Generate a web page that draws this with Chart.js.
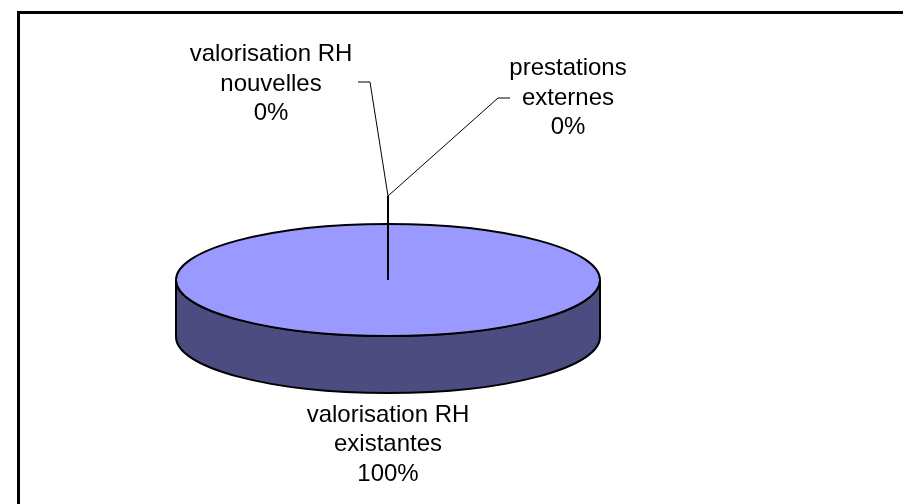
<!DOCTYPE html>
<html>
<head>
<meta charset="utf-8">
<script src="https://cdn.jsdelivr.net/npm/chart.js@4/dist/chart.umd.min.js"></script>
<style>
  html, body { margin: 0; padding: 0; background: #fff; }
  #wrap { position: relative; width: 903px; height: 504px; overflow: hidden; }
  #frame { position: absolute; left: 17px; top: 11px; width: 1000px; height: 600px;
           border-left: 3px solid #000; border-top: 3px solid #000; }
  #pie { position: absolute; left: 0; top: 0; }
</style>
</head>
<body>
<div id="wrap">
  <div id="frame"></div>
  <canvas id="pie" width="903" height="504"></canvas>
</div>
<script>
const sliceNames = [
  ['valorisation RH', 'existantes'],
  ['valorisation RH', 'nouvelles'],
  ['prestations', 'externes'],
];
const sliceValues = [100, 0, 0];
const topColors = ['#9999ff', '#993366', '#ffffcc'];
const sideColors = ['#4c4c80', '#4d1a33', '#808066'];

const TILT = 56 / 212;   // vertical squash of the pie
const DEPTH = 57;        // thickness of the 3d side
const FONT = '24px "Liberation Sans", Arial, sans-serif';
const LINE_H = 29.5;

class Pie3D {
  constructor() {
    this.canvas = document.getElementById('pie');
    this.total = sliceValues.reduce((a, b) => a + b, 0);
    this.render();
  }

  percent(i) {
    return Math.round(sliceValues[i] / this.total * 100) + '%';
  }

  // front (visible) part of the slice side
  drawSide(ctx, arc, color) {
    const { x, y, startAngle, endAngle, outerRadius } = arc.getProps(['x', 'y', 'startAngle', 'endAngle', 'outerRadius']);
    const ry = outerRadius * TILT;
    for (let k = -1; k <= 1; k++) {
      const lo = Math.max(startAngle, 2 * Math.PI * k);
      const hi = Math.min(endAngle, 2 * Math.PI * k + Math.PI);
      if (hi <= lo) continue;
      ctx.beginPath();
      ctx.ellipse(x, y, outerRadius, ry, 0, lo, hi, false);
      ctx.ellipse(x, y + DEPTH, outerRadius, ry, 0, hi, lo, true);
      ctx.closePath();
      ctx.fillStyle = color;
      ctx.fill();
      ctx.lineWidth = 2;
      ctx.strokeStyle = '#000';
      ctx.stroke();
    }
  }

  drawLabel(ctx, lines, cx, firstY) {
    ctx.font = FONT;
    ctx.fillStyle = '#000';
    ctx.textAlign = 'center';
    ctx.textBaseline = 'middle';
    lines.forEach((t, i) => ctx.fillText(t, cx, firstY + i * LINE_H));
  }

  render() {
    const self = this;
    const plugin = {
      id: 'pie3d',
      beforeDatasetsDraw(chart) {
        const ctx = chart.ctx;
        const arcs = chart.getDatasetMeta(0).data;
        arcs.forEach((arc, i) => {
          if (sliceValues[i] > 0) self.drawSide(ctx, arc, sideColors[i]);
        });
        const { x, y } = arcs[0].getProps(['x', 'y']);
        ctx.save();
        ctx.translate(x, y);
        ctx.scale(1, TILT);
        ctx.translate(-x, -y);
      },
      afterDatasetsDraw(chart) {
        const ctx = chart.ctx;
        ctx.restore();
        const arcs = chart.getDatasetMeta(0).data;
        ctx.strokeStyle = '#000';
        arcs.forEach((arc, i) => {
          const { x, y, startAngle, endAngle, outerRadius } = arc.getProps(['x', 'y', 'startAngle', 'endAngle', 'outerRadius']);
          const ry = outerRadius * TILT;
          ctx.lineWidth = 2;
          if (sliceValues[i] > 0) {
            ctx.beginPath();
            if (endAngle - startAngle < 2 * Math.PI - 1e-6) ctx.moveTo(x, y);
            ctx.ellipse(x, y, outerRadius, ry, 0, startAngle, endAngle);
            ctx.closePath();
            ctx.stroke();
          } else {
            // empty slice: radial edge
            ctx.beginPath();
            ctx.moveTo(x, y);
            ctx.lineTo(x + outerRadius * Math.cos(startAngle), y + ry * Math.sin(startAngle));
            ctx.stroke();
          }
        });
      },
      afterDraw(chart) {
        const ctx = chart.ctx;
        const arc = chart.getDatasetMeta(0).data[0];
        const { x, y, outerRadius } = arc.getProps(['x', 'y', 'outerRadius']);
        const ry = outerRadius * TILT;
        const elbowY = y - ry - 28;

        ctx.strokeStyle = '#000';
        ctx.lineWidth = 2;
        ctx.beginPath();
        ctx.moveTo(x, y - ry);
        ctx.lineTo(x, elbowY);
        ctx.stroke();

        ctx.lineWidth = 1;
        ctx.beginPath();
        ctx.moveTo(x, elbowY);
        ctx.lineTo(x - 18, y - 198);
        ctx.lineTo(x - 30, y - 198);
        ctx.moveTo(x, elbowY);
        ctx.lineTo(x + 110, y - 182);
        ctx.lineTo(x + 122, y - 182);
        ctx.stroke();

        self.drawLabel(ctx, [...sliceNames[0], self.percent(0)], x, y + ry + DEPTH + 22);
        self.drawLabel(ctx, [...sliceNames[1], self.percent(1)], x - 117, y - 196 - LINE_H);
        self.drawLabel(ctx, [...sliceNames[2], self.percent(2)], x + 180, y - 182 - LINE_H);
      },
    };

    new Chart(this.canvas, {
      type: 'pie',
      data: {
        labels: sliceNames.map((n) => n.join(' ')),
        datasets: [{
          data: sliceValues,
          backgroundColor: topColors,
          borderWidth: 0,
        }],
      },
      options: {
        responsive: false,
        animation: false,
        layout: { padding: { left: 176, right: 303, top: 68, bottom: 12 } },
        plugins: {
          legend: { display: false },
          tooltip: { enabled: false },
        },
      },
      plugins: [plugin],
    });
  }
}

const pie = new Pie3D();
</script>
</body>
</html>
